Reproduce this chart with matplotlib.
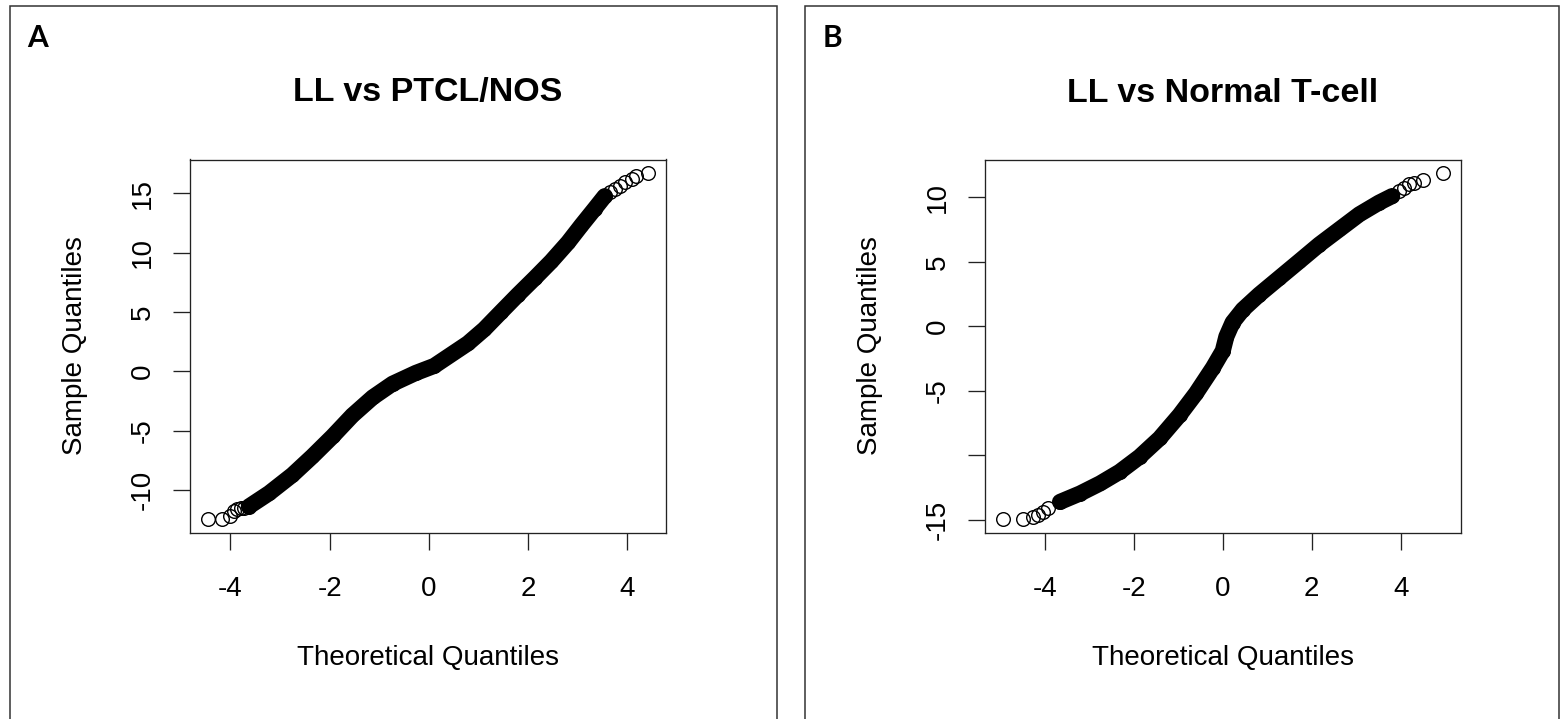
import matplotlib
matplotlib.use('Agg')
import matplotlib.pyplot as plt
from matplotlib.patches import Rectangle

plt.rcParams['font.family'] = ['Liberation Sans', 'DejaVu Sans']

# ---- data (theoretical, sample quantiles) ----
# panel A: LL vs PTCL/NOS
a_tail_lo_x = [-4.46, -4.17, -4.01, -3.93, -3.86, -3.79, -3.72]
a_tail_lo_y = [-12.46, -12.46, -12.16, -11.74, -11.62, -11.55, -11.48]
a_band_x = [-3.63, -3.22, -2.75, -2.35, -1.94, -1.54, -1.13, -0.73, -0.26, 0.11,
            0.79, 1.12, 1.46, 1.80, 2.14, 2.47, 2.81, 3.08, 3.35, 3.55]
a_band_y = [-11.40, -10.27, -8.73, -7.18, -5.49, -3.72, -2.20, -1.05, -0.14, 0.45,
            2.35, 3.54, 5.00, 6.45, 7.85, 9.25, 10.85, 12.30, 13.70, 14.75]
a_tail_hi_x = [3.65, 3.75, 3.85, 3.96, 4.09, 4.19, 4.43]
a_tail_hi_y = [15.10, 15.35, 15.64, 15.92, 16.19, 16.45, 16.67]

# panel B: LL vs Normal T-cell
b_tail_lo_x = [-4.95, -4.50, -4.27, -4.15, -4.04, -3.92]
b_tail_lo_y = [-14.95, -14.90, -14.82, -14.64, -14.38, -14.12]
b_band_x = [-3.66, -3.21, -2.76, -2.32, -1.87, -1.42, -0.97, -0.60, -0.22, 0.00,
            0.08, 0.22, 0.45, 0.82, 1.27, 1.72, 2.17, 2.62, 3.07, 3.51, 3.81]
b_band_y = [-13.61, -12.96, -12.18, -11.28, -10.11, -8.68, -6.87, -5.18, -3.20, -1.90,
            -0.80, 0.30, 1.30, 2.47, 3.76, 5.05, 6.35, 7.52, 8.69, 9.59, 10.11]
b_tail_hi_x = [3.96, 4.07, 4.19, 4.30, 4.50, 4.96]
b_tail_hi_y = [10.50, 10.76, 11.02, 11.15, 11.35, 11.87]

x_ticks = [-4, -2, 0, 2, 4]
x_ticklabels = ['-4', '-2', '0', '2', '4']
a_y_ticks = [-10, -5, 0, 5, 10, 15]
a_y_ticklabels = ['-10', '-5', '0', '5', '10', '15']
b_y_ticks = [-15, -10, -5, 0, 5, 10]
b_y_ticklabels = ['-15', '', '-5', '0', '5', '10']   # R dropped the -10 label

titles = ['LL vs PTCL/NOS', 'LL vs Normal T-cell']
panel_letters = ['A', 'B']

W, H, DPI = 1562, 719, 100
fig = plt.figure(figsize=(W / DPI, H / DPI), dpi=DPI)


def fx(p):
    return p / W


def fy(p):
    return 1 - p / H


def r_lim(vals):
    # R pads the data range by 4% on each side
    lo, hi = min(vals), max(vals)
    d = (hi - lo) * 0.04
    return lo - d, hi + d


def qq_panel(left_px, tail_lo, band, tail_hi, yticks, ylabels, title, letter, box):
    ax = fig.add_axes([fx(left_px), fy(533), 476 / W, (533 - 159.5) / H])
    xs = tail_lo[0] + band[0] + tail_hi[0]
    ys = tail_lo[1] + band[1] + tail_hi[1]
    # the dense run of overlapping circles shows as a solid band
    ax.plot(band[0], band[1], color='black', lw=11.6,
            solid_capstyle='round', solid_joinstyle='round')
    ax.plot(xs, ys, 'o', mfc='none', mec='black', ms=9.8, mew=1.0, lw=0)
    ax.set_xlim(*r_lim(xs))
    ax.set_ylim(*r_lim(ys))

    ax.set_xticks(x_ticks)
    ax.set_xticklabels(x_ticklabels)
    ax.set_yticks(yticks)
    ax.set_yticklabels(ylabels, rotation=90, va='center')
    ax.tick_params(axis='both', length=12.2, width=0.95, labelsize=20, color='#222222')
    ax.tick_params(axis='x', pad=18.5)
    ax.tick_params(axis='y', pad=12.5)
    for s in ax.spines.values():
        s.set_linewidth(0.95)
        s.set_color('#222222')

    cx = left_px + 238
    fig.text(fx(cx), fy(101.5), title, ha='center', va='baseline',
             fontsize=24.5, fontweight='bold')
    fig.text(fx(cx), fy(664.5), 'Theoretical Quantiles', ha='center', va='baseline',
             fontsize=20)
    fig.text(fx(left_px - 108), fy(346), 'Sample Quantiles', ha='center', va='baseline',
             rotation=90, rotation_mode='anchor', fontsize=20)

    # panel frame and letter
    fig.patches.append(Rectangle((fx(box[0]), -0.05), (box[1] - box[0]) / W, fy(6) + 0.05,
                                 transform=fig.transFigure, fill=False,
                                 edgecolor='#333333', lw=1.1))
    fig.text(fx(box[0] + 18), fy(47), letter, ha='left', va='baseline',
             fontsize=21.5, fontweight='bold', family=['Lato', 'DejaVu Sans'])
    return ax


qq_panel(190, (a_tail_lo_x, a_tail_lo_y), (a_band_x, a_band_y), (a_tail_hi_x, a_tail_hi_y),
         a_y_ticks, a_y_ticklabels, titles[0], panel_letters[0], (9.5, 776.5))
qq_panel(985, (b_tail_lo_x, b_tail_lo_y), (b_band_x, b_band_y), (b_tail_hi_x, b_tail_hi_y),
         b_y_ticks, b_y_ticklabels, titles[1], panel_letters[1], (805, 1559))

fig.savefig('out.png', dpi=DPI)
